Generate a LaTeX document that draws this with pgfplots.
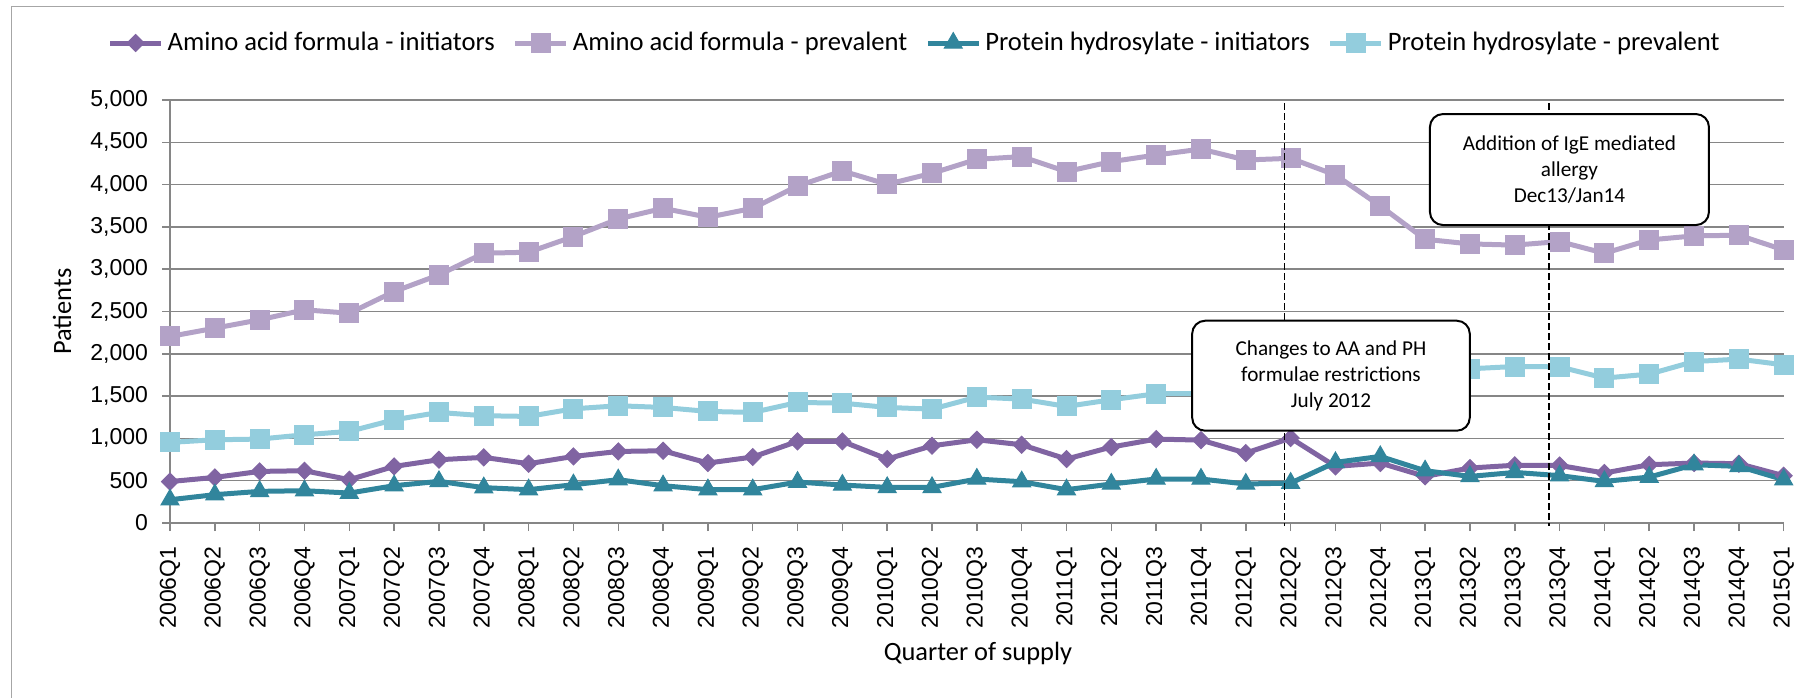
\documentclass[border=0pt]{standalone}
\usepackage{fontspec}
\setmainfont{Carlito}
\newfontfamily\tickfont{Liberation Sans}
\usepackage{pgfplots}
\usepackage{pgfplotstable}
\pgfplotsset{compat=1.18}

\definecolor{aaini}{HTML}{8064A2}
\definecolor{aaprev}{HTML}{B3A2C7}
\definecolor{phini}{HTML}{31859C}
\definecolor{phprev}{HTML}{93CDDD}
\definecolor{gridc}{HTML}{868686}
\definecolor{framec}{HTML}{A6A6A6}

% patients per quarter: AA initiators, AA prevalent, PH initiators, PH prevalent
\pgfplotstableread{
q      aai  aap  phi  php
2006Q1 490  2205 275  953
2006Q2 539  2303 335  984
2006Q3 610  2402 374  992
2006Q4 618  2520 382  1043
2007Q1 512  2480 354  1083
2007Q2 669  2736 441  1220
2007Q3 748  2933 492  1307
2007Q4 776  3189 418  1268
2008Q1 701  3201 394  1260
2008Q2 787  3386 453  1350
2008Q3 846  3594 512  1386
2008Q4 854  3720 441  1366
2009Q1 709  3614 394  1319
2009Q2 780  3720 394  1307
2009Q3 965  3984 484  1425
2009Q4 965  4161 449  1417
2010Q1 756  4004 421  1366
2010Q2 913  4134 421  1346
2010Q3 984  4299 520  1488
2010Q4 925  4331 488  1465
2011Q1 756  4154 394  1378
2011Q2 898  4272 461  1457
2011Q3 992  4350 520  1528
2011Q4 980  4420 520  1528
2012Q1 827  4291 461  1490
2012Q2 1004 4311 472  1530
2012Q3 669  4114 717  1650
2012Q4 709  3748 787  1760
2013Q1 551  3354 618  1810
2013Q2 650  3299 551  1823
2013Q3 683  3285 598  1850
2013Q4 680  3327 560  1846
2014Q1 591  3189 492  1713
2014Q2 689  3346 543  1760
2014Q3 709  3394 689  1909
2014Q4 701  3402 669  1937
2015Q1 559  3228 512  1870
}\quarters

\begin{document}
\begin{tikzpicture}
\begin{axis}[
  at={(85pt,-261.5pt)}, anchor=south west,
  scale only axis, width=806.85pt, height=211.5pt,
  xmin=0, xmax=36, ymin=0, ymax=5000,
  clip=false,
  axis x line=bottom, axis y line=left,
  axis line style={-, gridc, line width=0.75pt},
  xtick={0,...,36},
  xticklabels from table={\quarters}{q},
  ytick={0,500,...,5000},
  tick align=outside, major tick length=4pt,
  tick style={gridc, line width=0.75pt},
  ymajorgrids, grid style={gridc, line width=0.75pt},
  tick label style={font=\tickfont\fontsize{11.5pt}{13pt}\selectfont},
  xticklabel style={yshift=-4.3pt, rotate=90, anchor=east},
  yticklabel style={/pgf/number format/1000 sep={,}, xshift=-3.5pt},
  /pgf/number format/assume math mode=true,
  ylabel={Patients}, xlabel={Quarter of supply},
  label style={font=\fontsize{13.2pt}{15pt}\selectfont},
  ylabel style={at={(axis description cs:-0.0669,0.5)}, anchor=center},
  xlabel style={at={(axis description cs:0.5007,-0.3073)}, anchor=center},
  legend style={at={(axis description cs:0.462,1.1348)}, anchor=center,
    draw=none, fill=none, legend columns=4,
    font=\fontsize{13.3pt}{15pt}\selectfont,
    /tikz/every even column/.append style={column sep=7pt}},
  legend cell align=left,
  legend image code/.code={\draw[mark repeat=2,mark phase=2] plot coordinates {(0pt,0pt) (12.75pt,0pt) (25.5pt,0pt)};},
]
\addplot[aaini, line width=2.5pt, mark=square*, mark size=3pt, mark options={rotate=45, line width=0.5pt}]
  table[x expr=\coordindex, y=aai]{\quarters};
\addplot[aaprev, line width=2.5pt, mark=square*, mark size=4.75pt, mark options={line width=0.5pt}]
  table[x expr=\coordindex, y=aap]{\quarters};
\addplot[phini, line width=2.5pt, mark=triangle*, mark size=5.2pt, mark options={line width=0.5pt}]
  table[x expr=\coordindex, y=phi]{\quarters};
\addplot[phprev, line width=2.5pt, mark=square*, mark size=4.75pt, mark options={line width=0.5pt}]
  table[x expr=\coordindex, y=php]{\quarters};
\legend{Amino acid formula - initiators, Amino acid formula - prevalent, Protein hydrosylate - initiators, Protein hydrosylate - prevalent}

% anchor points for the annotations, drawn on top after the axis
\coordinate (d1top) at (axis cs:24.86,4960);
\coordinate (d1bot) at (axis cs:24.86,-40);
\coordinate (d2top) at (axis cs:30.77,4960);
\coordinate (d2bot) at (axis cs:30.77,-40);
\coordinate (box1) at (axis cs:25.9,1741);
\coordinate (box2) at (axis cs:31.22,4178);
\end{axis}

\draw[black, line width=0.8pt, dash pattern=on 3.3pt off 1.7pt] (d1top) -- (d1bot);
\draw[black, line width=0.8pt, dash pattern=on 3.3pt off 1.7pt] (d2top) -- (d2bot);
\node[draw=black, line width=1pt, fill=white, rounded corners=6.5pt, align=center,
  minimum width=138.8pt, minimum height=55pt, inner sep=0pt,
  font=\fontsize{10.6pt}{13pt}\selectfont] at (box1)
  {Changes to AA and PH\\formulae restrictions\\July 2012};
\node[draw=black, line width=1pt, fill=white, rounded corners=6.5pt, align=center,
  minimum width=139.5pt, minimum height=55.5pt, inner sep=0pt,
  font=\fontsize{10.6pt}{13pt}\selectfont] at (box2)
  {Addition of IgE mediated\\allergy\\Dec13/Jan14};

\pgfresetboundingbox
\useasboundingbox (0,0) rectangle (902.5pt,-348.5pt);
\draw[framec, line width=0.75pt] (892pt,-3.2pt) -- (5.85pt,-3.2pt) -- (5.85pt,-360pt);
\end{tikzpicture}
\end{document}
